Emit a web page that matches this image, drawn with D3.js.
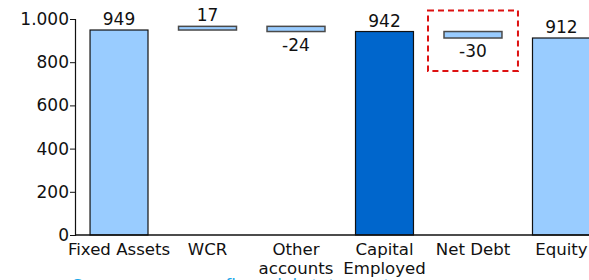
<!DOCTYPE html>
<html>
<head>
<meta charset="utf-8">
<script src="https://cdn.jsdelivr.net/npm/d3@7"></script>
<style>
  body { margin: 0; background: #fff; }
  svg { display: block; font-family: "DejaVu Sans", Verdana, sans-serif; }
</style>
</head>
<body>
<svg></svg>
<script>
// data
let categories = ['Fixed Assets', 'WCR', 'Other accounts', 'Capital Employed', 'Net Debt', 'Equity']
let categoryLines = [['Fixed Assets'], ['WCR'], ['Other', 'accounts'], ['Capital', 'Employed'], ['Net Debt'], ['Equity']]
let values = [949, 17, -24, 942, -30, 912]
let kinds = ['total', 'delta', 'delta', 'total', 'delta', 'total']
let yTicks = [0, 200, 400, 600, 800, 1000]
let highlighted = 'Capital Employed'
let boxed = 'Net Debt'
let footnote = 'Source: company financial statements'

let width = 589
let height = 280
let padLeft = 75
let base = 235
let padTop = 19

let svg = d3.select('svg').attr('width', width).attr('height', height)

let de = d3.formatLocale({decimal: ',', thousands: '.', grouping: [3], currency: ['', '€'], minus: '-'})
let fmt = de.format(',')

// running totals for the waterfall
let rows = []
let running = 0
values.forEach((v, i) => {
    let start, end
    if (kinds[i] == 'total') {
        start = 0
        end = v
    } else {
        start = running
        end = running + v
    }
    running = end
    rows.push({name: categories[i], lines: categoryLines[i], value: v, kind: kinds[i], start: start, end: end})
})

let xScale = d3.scaleBand()
    .domain(categories)
    .range([padLeft, 605.5])
    .paddingInner(0.345)
    .paddingOuter(0.17)

let yScale = d3.scaleLinear()
    .domain([0, 1000])
    .range([base, padTop])

// bars
svg.selectAll('rect.bar')
    .data(rows)
    .enter()
    .append('rect')
    .attr('class', 'bar')
    .attr('x', d => xScale(d.name))
    .attr('width', xScale.bandwidth())
    .attr('y', d => yScale(Math.max(d.start, d.end)))
    .attr('height', d => Math.abs(yScale(d.start) - yScale(d.end)))
    .attr('fill', d => d.name == highlighted ? '#0066cc' : '#99ccff')
    .attr('stroke', d => d.kind == 'total' ? '#111' : '#4a4a4a')
    .attr('stroke-width', d => d.kind == 'total' ? 1.2 : 1.5)

// value labels
svg.selectAll('text.val')
    .data(rows)
    .enter()
    .append('text')
    .attr('class', 'val')
    .attr('x', d => xScale(d.name) + xScale.bandwidth() / 2)
    .attr('y', d => d.value >= 0 ? yScale(Math.max(d.start, d.end)) - 5 : yScale(Math.min(d.start, d.end)) + 19)
    .attr('text-anchor', 'middle')
    .attr('font-size', 17)
    .attr('fill', '#111')
    .text(d => fmt(d.value))

// dashed highlight box
let b = rows.find(r => r.name == boxed)
svg.append('rect')
    .attr('x', xScale(b.name) - 16)
    .attr('y', yScale(b.start) - 21)
    .attr('width', xScale.bandwidth() + 32)
    .attr('height', yScale(b.end) - yScale(b.start) + 54)
    .attr('fill', 'none')
    .attr('stroke', '#dd1111')
    .attr('stroke-width', 2)
    .attr('stroke-dasharray', '6,4')

// axes
let yAxis = d3.axisLeft(yScale)
    .tickValues(yTicks)
    .tickFormat(fmt)
    .tickSizeOuter(0)
    .tickSize(5)
svg.append('g')
    .attr('transform', 'translate(' + padLeft + ',0)')
    .call(yAxis)
    .call(g => g.selectAll('text').attr('font-size', 17).attr('fill', '#111').attr('x', -6))
    .call(g => g.attr('font-family', null))
    .call(g => g.selectAll('line').attr('stroke', '#111'))
    .call(g => g.select('.domain').attr('stroke', '#111').attr('stroke-width', 1.2))

svg.append('line')
    .attr('x1', padLeft)
    .attr('x2', width)
    .attr('y1', base)
    .attr('y2', base)
    .attr('stroke', '#111')
    .attr('stroke-width', 1.5)

// category labels
let cat = svg.selectAll('text.cat')
    .data(rows)
    .enter()
    .append('text')
    .attr('class', 'cat')
    .attr('text-anchor', 'middle')
    .attr('font-size', 16.6)
    .attr('fill', '#111')
cat.selectAll('tspan')
    .data(d => d.lines.map(l => ({line: l, x: xScale(d.name) + xScale.bandwidth() / 2})))
    .enter()
    .append('tspan')
    .attr('x', d => d.x)
    .attr('y', (d, i) => 255 + i * 19)
    .text(d => d.line)

// footnote, mostly cut off by the bottom edge
svg.append('text')
    .attr('x', 72)
    .attr('y', 292)
    .attr('font-size', 17)
    .attr('fill', '#1ea7e8')
    .text(footnote)
</script>
</body>
</html>
